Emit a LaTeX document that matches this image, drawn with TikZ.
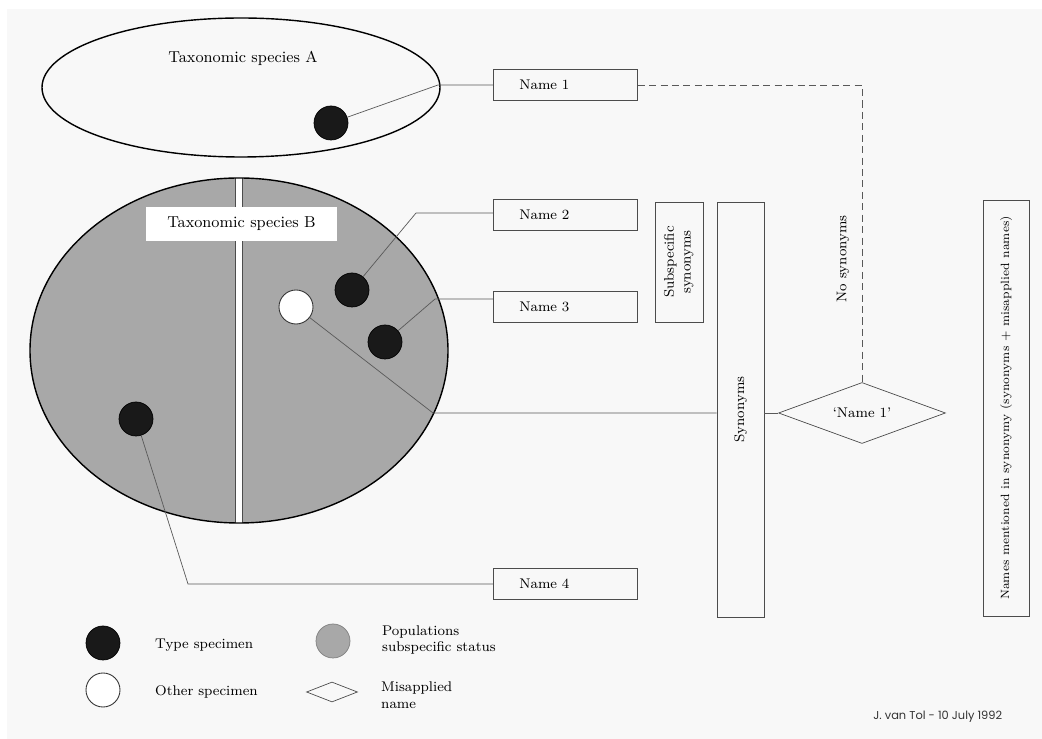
\documentclass[tikz,border=0pt]{standalone}
\usepackage{fontspec}
\usepackage{tikz}
\usetikzlibrary{shapes.geometric, positioning}
\newfontfamily\sigfont{Poppins}
\definecolor{Pop_Gray}{HTML}{A8A8A8}
\definecolor{Paper_Gray}{HTML}{F8F8F8}

\begin{document}
\begin{tikzpicture}[
    x=0.02cm,            % 1 unit = 1 px of the sheet
    y=-0.02cm,           % y runs downwards
    namebox/.style={draw=black!70, line width=0.4pt, anchor=west, font=\footnotesize,
        text width=1.84cm, align=left, inner xsep=0.52cm, minimum height=0.62cm},
    tallbox/.style={draw=black!70, line width=0.4pt, font=\footnotesize, inner sep=0pt},
    typedot/.style={circle, fill=black!90, draw=black, minimum size=0.68cm, inner sep=0pt},
    otherdot/.style={circle, fill=white, draw=black!80, line width=0.5pt, minimum size=0.68cm, inner sep=0pt},
    link/.style={draw=black!65, line width=0.4pt},
    legendtext/.style={anchor=west, font=\footnotesize, align=left}
]

    % --- Parameters ---
    \def\Ax{241}   \def\Ay{87.5}  % centre of species A
    \def\Arx{199}  \def\Ary{69.5}
    \def\Bx{239}   \def\By{350.5} % centre of species B
    \def\Brx{209}  \def\Bry{172.5}

    % --- 0. Sheet ---
    \useasboundingbox (0,0) rectangle (1042,739);
    \fill[Paper_Gray] (7,9) rectangle (1042,739);

    % --- 1. Taxonomic species A ---
    \draw[line width=0.8pt] (\Ax,\Ay) ellipse [x radius=\Arx, y radius=\Ary];
    \node[font=\small] (titleA) at (243,58) {Taxonomic species A};
    \node[typedot] (dA) at (331,123) {};

    % --- 2. Taxonomic species B ---
    \fill[Pop_Gray] (\Bx,\By) ellipse [x radius=\Brx, y radius=\Bry];
    \begin{scope}
        \clip (\Bx,\By) ellipse [x radius=\Brx, y radius=\Bry];
        \fill[white] (235,170) rectangle (242,530);
        \draw[black!70, line width=0.4pt] (235,170) -- (235,530);
        \draw[black!70, line width=0.4pt] (242,170) -- (242,530);
    \end{scope}
    \draw[line width=0.8pt] (\Bx,\By) ellipse [x radius=\Brx, y radius=\Bry];
    \node[fill=white, minimum width=3.82cm, minimum height=0.68cm, font=\small] (titleB) at (241.5,224) {Taxonomic species B};

    \node[typedot] (d2) at (352,290) {};
    \node[otherdot] (wd) at (296,307) {};
    \node[typedot] (d3) at (385,342) {};
    \node[typedot] (d4) at (136,419) {};

    % --- 3. Name boxes ---
    \node[namebox] (n1) at (493,85) {Name 1};
    \node[namebox] (n2) at (493,214.5) {Name 2};
    \node[namebox] (n3) at (493,306.5) {Name 3};
    \node[namebox] (n4) at (493,583.5) {Name 4};

    % --- 4. Columns on the right ---
    \node[tallbox, minimum width=0.96cm, minimum height=2.40cm] (subsyn) at (679,262)
        {\rotatebox{90}{\begin{tabular}{@{}c@{}}Subspecific\\synonyms\end{tabular}}};
    \node[tallbox, minimum width=0.94cm, minimum height=8.30cm] (syn) at (740.5,409.5)
        {\rotatebox{90}{Synonyms}};
    \node[tallbox, minimum width=0.92cm, minimum height=8.32cm] (allnames) at (1006,408)
        {\rotatebox{90}{\fontsize{6.8}{8}\selectfont Names mentioned in synonymy (synonyms + misapplied names)}};
    \node[draw=black!70, line width=0.4pt, diamond, aspect=2.74, minimum width=3.34cm,
        minimum height=1.22cm, inner sep=0pt, font=\footnotesize] (mis) at (862,413) {`Name 1'};
    \node[rotate=90, font=\footnotesize] (nosyn) at (843,259) {No synonyms};

    % --- 5. Connectors ---
    \coordinate (bA) at (438,85);
    \coordinate (b2) at (416,213);
    \coordinate (b3) at (435,299);
    \coordinate (bw) at (433,413);
    \coordinate (b4) at (188,584);

    \draw[link] (dA) -- (bA) -- (n1.west);
    \draw[link] (d2) -- (b2) -- (n2.west |- b2);
    \draw[link] (d3) -- (b3) -- (n3.west |- b3);
    \draw[link] (wd) -- (bw) -- (syn.west |- bw);
    \draw[link] (d4) -- (b4) -- (n4.west |- b4);
    \draw[link] (syn.east |- mis.west) -- (mis.west);
    \draw[link, dash pattern=on 4pt off 2.5pt] (n1.east) -| (mis.north);

    % --- 6. Legend ---
    \node[typedot] (keyType) at (103,643) {};
    \node[otherdot] (keyOther) at (103,690) {};
    \node[circle, fill=Pop_Gray, draw=black!50, line width=0.4pt, minimum size=0.68cm, inner sep=0pt] (keyPop) at (333,641) {};
    \node[draw=black!70, line width=0.4pt, diamond, aspect=2.55, minimum width=1.02cm,
        minimum height=0.40cm, inner sep=0pt] (keyMis) at (332,692) {};

    \node[legendtext] (txtType) at (149,645) {Type specimen};
    \node[legendtext] (txtOther) at (149,692) {Other specimen};
    \node[legendtext] (txtPop) at (376,640) {Populations\\subspecific status};
    \node[legendtext] (txtMis) at (375,695) {Misapplied\\name};

    % --- 7. Signature ---
    \node[anchor=west, font=\sigfont\fontsize{6.5}{8}\selectfont, text=black!80, inner sep=0pt] (sig) at (873,717) {J. van Tol - 10 July 1992};

\end{tikzpicture}
\end{document}
